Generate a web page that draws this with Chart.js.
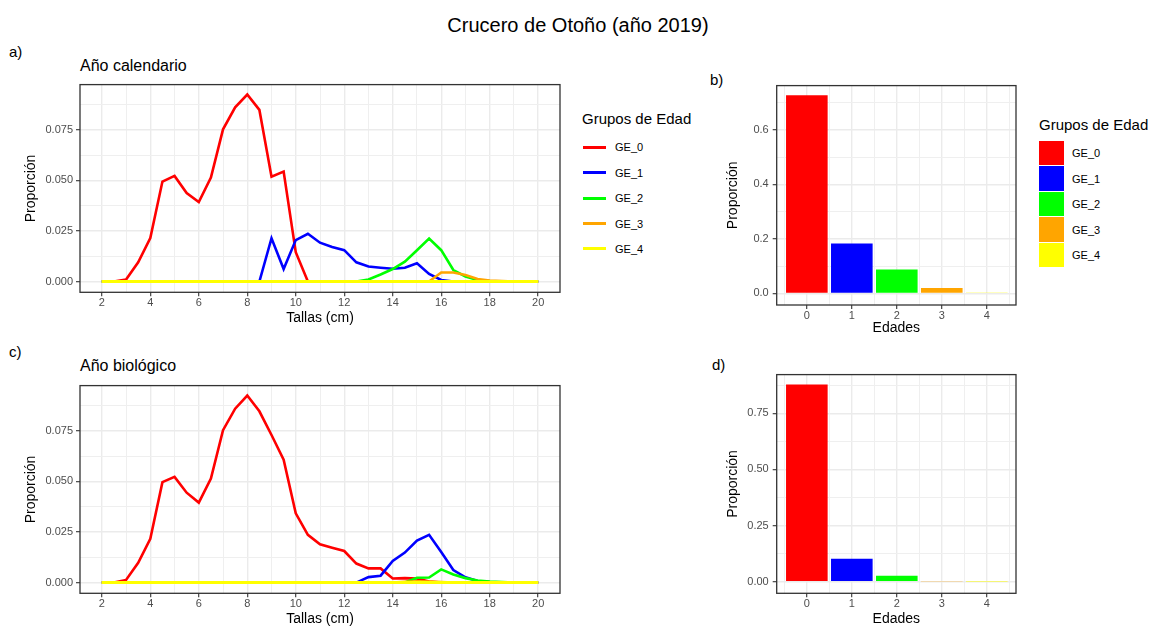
<!DOCTYPE html>
<html>
<head>
<meta charset="utf-8">
<script src="https://cdn.jsdelivr.net/npm/chart.js"></script>
<style>
  body { margin: 0; background: #fff; }
  #fig { position: relative; width: 1156px; height: 626px; overflow: hidden; font-family: "Liberation Sans", Arial, sans-serif; color: #000; }
  .txt { position: absolute; white-space: nowrap; line-height: 20px; }
  canvas { position: absolute; }
</style>
</head>
<body>
<div id="fig">
  <div class="txt" style="left:0;width:1156px;text-align:center;top:13px;font-size:20px;line-height:24px">Crucero de Otoño (año 2019)</div>
  <div class="txt" style="left:9px;top:42px;font-size:15px">a)</div>
  <div class="txt" style="left:80px;top:56px;font-size:16px">Año calendario</div>
  <div class="txt" style="left:710px;top:70px;font-size:15px">b)</div>
  <div class="txt" style="left:9px;top:342px;font-size:15px">c)</div>
  <div class="txt" style="left:80px;top:356px;font-size:16px">Año biológico</div>
  <div class="txt" style="left:712px;top:355px;font-size:15px">d)</div>
  <canvas id="chartA" width="575" height="256" style="left:0;top:75px"></canvas>
  <canvas id="chartB" width="330" height="266" style="left:700px;top:75px"></canvas>
  <canvas id="chartC" width="575" height="256" style="left:0;top:376px"></canvas>
  <canvas id="chartD" width="330" height="268" style="left:700px;top:364px"></canvas>
</div>
<script>
'use strict';
// tallas (cm), cada 0.5
let tallas=[2,2.5,3,3.5,4,4.5,5,5.5,6,6.5,7,7.5,8,8.5,9,9.5,10,10.5,11,11.5,12,12.5,13,13.5,14,14.5,15,15.5,16,16.5,17,17.5,18,18.5,19,19.5,20];
let edades=[0,1,2,3,4];
let grupos=['GE_0','GE_1','GE_2','GE_3','GE_4'];
let colores=['#ff0000','#0000ff','#00ff00','#ffa500','#ffff00'];

// a) año calendario
let calGE0=[0,0,0.001,0.0095,0.0215,0.0494,0.0522,0.0437,0.0393,0.0514,0.0752,0.0861,0.0924,0.0848,0.0518,0.0543,0.0145,0,0,0,0,0,0,0,0,0,0,0,0,0,0,0,0,0,0,0,0];
let calGE1=[0,0,0,0,0,0,0,0,0,0,0,0,0,0,0.0214,0.0062,0.0205,0.0236,0.0192,0.0171,0.0155,0.0095,0.0074,0.0068,0.0063,0.0068,0.009,0.0038,0.0008,0,0,0,0,0,0,0,0];
let calGE2=[0,0,0,0,0,0,0,0,0,0,0,0,0,0,0,0,0,0,0,0,0,0,0.001,0.0035,0.0062,0.0098,0.0155,0.0212,0.0155,0.0057,0.0025,0.0008,0.0003,0,0,0,0];
let calGE3=[0,0,0,0,0,0,0,0,0,0,0,0,0,0,0,0,0,0,0,0,0,0,0,0,0,0,0,0,0.0045,0.0045,0.0032,0.0013,0.0005,0.0002,0,0,0];
let calGE4=[0,0,0,0,0,0,0,0,0,0,0,0,0,0,0,0,0,0,0,0,0,0,0,0,0,0,0,0,0,0,0,0,0,0,0,0,0];

// c) año biológico
let bioGE0=[0,0,0.0013,0.0098,0.0216,0.0496,0.0522,0.0444,0.0395,0.0514,0.0753,0.0859,0.0924,0.0846,0.0729,0.0607,0.0342,0.0236,0.0189,0.0172,0.0156,0.0094,0.007,0.007,0.002,0.0022,0.002,0.0005,0,0,0,0,0,0,0,0,0];
let bioGE1=[0,0,0,0,0,0,0,0,0,0,0,0,0,0,0,0,0,0,0,0,0,0,0.0027,0.0034,0.0107,0.0148,0.0208,0.0236,0.0151,0.0062,0.0026,0.0008,0.0003,0,0,0,0];
let bioGE2=[0,0,0,0,0,0,0,0,0,0,0,0,0,0,0,0,0,0,0,0,0,0,0,0,0,0,0.0024,0.0025,0.0065,0.004,0.0022,0.001,0.0005,0.0002,0,0,0];
let bioGE3=[0,0,0,0,0,0,0,0,0,0,0,0,0,0,0,0,0,0,0,0,0,0,0,0,0,0.0004,0.0006,0.0005,0.0002,0,0,0,0,0,0,0,0];
let bioGE4=[0,0,0,0,0,0,0,0,0,0,0,0,0,0,0,0,0,0,0,0,0,0,0,0,0,0,0,0,0,0,0,0,0,0,0,0,0];

// b) y d) proporción por edad
let propCal=[0.728,0.183,0.088,0.020,0.001];
let propBio=[0.878,0.102,0.026,0.002,0.001];

// ejes
let xTicksTallas=[2,4,6,8,10,12,14,16,18,20];
let xMinorTallas=[3,5,7,9,11,13,15,17,19];
let yTicksLinea=[0,0.025,0.05,0.075];
let yLabelsLinea=['0.000','0.025','0.050','0.075'];
let yMinorLinea=[0.0125,0.0375,0.0625,0.0875];
let xTicksEdad=[0,1,2,3,4];
let xMinorEdad=[-0.5,0.5,1.5,2.5,3.5,4.5];
let yTicksCal=[0,0.2,0.4,0.6];
let yLabelsCal=['0.0','0.2','0.4','0.6'];
let yMinorCal=[0.1,0.3,0.5,0.7];
let yTicksBio=[0,0.25,0.5,0.75];
let yLabelsBio=['0.00','0.25','0.50','0.75'];
let yMinorBio=[0.125,0.375,0.625,0.875];

Chart.defaults.font.family='"Liberation Sans", Arial, sans-serif';
Chart.defaults.animation=false;

// marco del panel (como theme_bw)
let marco={
  id:'marco',
  afterDatasetsDraw(chart){
    let a=chart.chartArea;
    let ctx=chart.ctx;
    ctx.save();
    ctx.strokeStyle='#333333';
    ctx.lineWidth=1.3;
    ctx.strokeRect(a.left,a.top,a.right-a.left,a.bottom-a.top);
    ctx.restore();
  }
};

function fixTicks(values){
  return function(scale){
    scale.ticks=values.map(v=>({value:v}));
  };
}

function makeScales(p){
  return {
    x:{
      type:'linear', min:p.xMin, max:p.xMax, offset:false,
      afterBuildTicks:fixTicks(p.xTicks),
      afterFit:function(s){ s.height=p.xH; },
      border:{display:false},
      grid:{offset:false, color:'#ebebeb', lineWidth:1.4, tickColor:'#333333', tickLength:4, tickWidth:1.1},
      ticks:{color:'#4d4d4d', font:{size:11}, padding:0, maxRotation:0, autoSkip:false, callback:(v,i)=>p.xLabels[i]},
      title:{display:true, text:p.xTitle, color:'#000', font:{size:14}, padding:{top:0,bottom:4}}
    },
    xm:{
      type:'linear', position:'bottom', min:p.xMin, max:p.xMax, offset:false,
      afterBuildTicks:fixTicks(p.xMinor),
      afterFit:function(s){ s.height=0; },
      border:{display:false},
      grid:{offset:false, color:'#efefef', lineWidth:1, drawTicks:false},
      ticks:{display:false}
    },
    y:{
      type:'linear', min:p.yMin, max:p.yMax,
      afterBuildTicks:fixTicks(p.yTicks),
      afterFit:function(s){ s.width=p.yW; },
      border:{display:false},
      grid:{color:'#ebebeb', lineWidth:1.4, tickColor:'#333333', tickLength:4, tickWidth:1.1},
      ticks:{color:'#4d4d4d', font:{size:11}, padding:p.yPad, callback:(v,i)=>p.yLabels[i]},
      title:{display:true, text:'Proporción', color:'#000', font:{size:14}, padding:{top:p.yTitlePad,bottom:0}}
    },
    ym:{
      type:'linear', position:'left', min:p.yMin, max:p.yMax,
      afterBuildTicks:fixTicks(p.yMinor),
      afterFit:function(s){ s.width=0; },
      border:{display:false},
      grid:{color:'#efefef', lineWidth:1, drawTicks:false},
      ticks:{display:false}
    }
  };
}

function lineChart(id, series, pad, yH){
  let datasets=[];
  for(let i=0; i<series.length; i++){
    datasets.push({
      label:grupos[i],
      data:series[i],
      borderColor:colores[i],
      borderWidth:i===4 ? 3 : 2.6,
      pointRadius:0,
      fill:false,
      tension:0,
      order:series.length-i
    });
  }
  new Chart(document.getElementById(id), {
    type:'line',
    data:{labels:tallas, datasets:datasets},
    options:{
      responsive:false,
      layout:{padding:pad},
      plugins:{legend:{display:false}, tooltip:{enabled:false}},
      scales:makeScales({
        xMin:1.1, xMax:20.9, xTicks:xTicksTallas, xMinor:xMinorTallas, xLabels:xTicksTallas.map(String), xTitle:'Tallas (cm)', xH:yH,
        yMin:-0.0053, yMax:0.0973, yTicks:yTicksLinea, yMinor:yMinorLinea, yLabels:yLabelsLinea, yW:80, yPad:3, yTitlePad:23
      })
    },
    plugins:[marco]
  });
}

function barChart(id, values, pad, xH, yMax, yTicks, yMinor, yLabels){
  new Chart(document.getElementById(id), {
    type:'bar',
    data:{labels:edades, datasets:[{
      label:'Proporción',
      data:values,
      backgroundColor:colores,
      borderWidth:0,
      barPercentage:0.925,
      categoryPercentage:1
    }]},
    options:{
      responsive:false,
      layout:{padding:pad},
      plugins:{legend:{display:false}, tooltip:{enabled:false}},
      scales:makeScales({
        xMin:-0.67, xMax:4.65, xTicks:xTicksEdad, xMinor:xMinorEdad, xLabels:xTicksEdad.map(String), xTitle:'Edades', xH:xH,
        yMin:-yMax*0.056, yMax:yMax, yTicks:yTicks, yMinor:yMinor, yLabels:yLabels, yW:76.7, yPad:4, yTitlePad:25
      })
    },
    plugins:[marco]
  });
}

lineChart('chartA', [calGE0,calGE1,calGE2,calGE3,calGE4], {top:7.3,right:15,left:0,bottom:0}, 38.7);
lineChart('chartC', [bioGE0,bioGE1,bioGE2,bioGE3,bioGE4], {top:7.3,right:15,left:0,bottom:0}, 38.7);
barChart('chartB', propCal, {top:7.7,right:14,left:0,bottom:0}, 36, 0.763, yTicksCal, yMinorCal, yLabelsCal);
barChart('chartD', propBio, {top:7.7,right:14,left:0,bottom:0}, 38.7, 0.922, yTicksBio, yMinorBio, yLabelsBio);

// leyendas
let fig=document.getElementById('fig');
function addDiv(style, text){
  let d=document.createElement('div');
  d.className='txt';
  d.style.cssText=style;
  if(text) d.textContent=text;
  fig.appendChild(d);
}

addDiv('left:582px;top:109px;font-size:15px', 'Grupos de Edad');
for(let i=0; i<grupos.length; i++){
  let cy=147.3+i*25.4;
  addDiv(`left:583px;top:${cy-1.5}px;width:23px;height:3px;background:${colores[i]}`);
  addDiv(`left:615px;top:${cy-10}px;font-size:11px`, grupos[i]);
}

addDiv('left:1039px;top:115px;font-size:15px', 'Grupos de Edad');
for(let i=0; i<grupos.length; i++){
  let top=140.7+i*25.5;
  addDiv(`left:1038.5px;top:${top}px;width:25.5px;height:24.5px;background:${colores[i]}`);
  addDiv(`left:1072px;top:${top+2.3}px;font-size:11px`, grupos[i]);
}
</script>
</body>
</html>
